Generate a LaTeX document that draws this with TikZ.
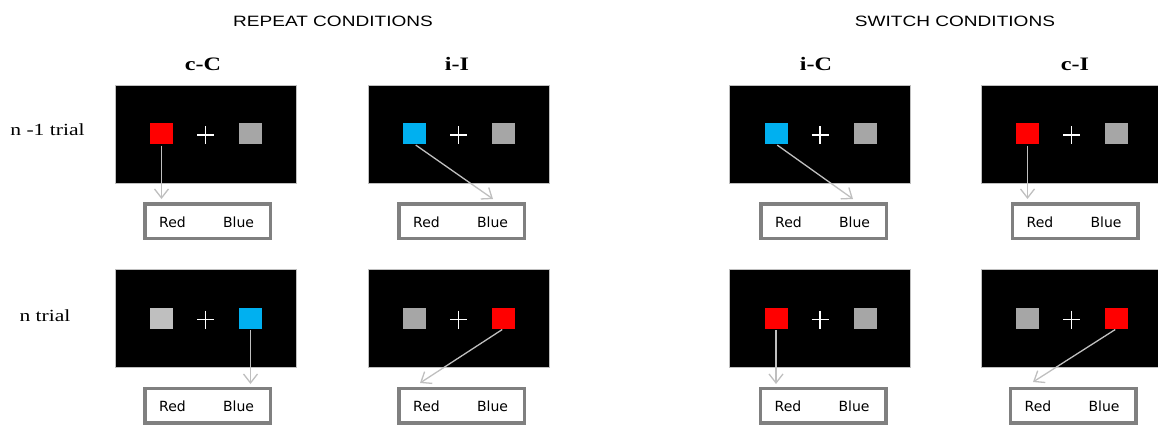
\documentclass[tikz,border=0pt]{standalone}
\usepackage{fontspec}
\usepackage{graphicx}
\usetikzlibrary{arrows.meta,calc}
\setmainfont{Liberation Serif}
\newfontfamily\titlefont{Liberation Sans}
\newfontfamily\respfont{DejaVu Sans}
\definecolor{stimred}{HTML}{FF0000}
\definecolor{stimblue}{HTML}{00B0F0}
\definecolor{stimgray}{HTML}{A6A6A6}
\definecolor{stimlight}{HTML}{BFBFBF}
\definecolor{arrowgray}{HTML}{BFBFBF}
\definecolor{boxgray}{HTML}{808080}
\newcommand\hstretch[1]{\scalebox{1.27}[1]{#1}}
\newcommand\trialpanel[5]{%
  \node[panelbox] (#1) at (#2,#3) {};
  \node[stim, fill=#4] (#1Left) at (#2-44,#3-0.5) {};
  \node[stim, fill=#5] (#1Right) at (#2+45,#3-0.5) {};
  \coordinate (#1Fix) at (#2,#3+1);
  \draw[fixline] ($(#1Fix)+(-8.5,0)$) -- ($(#1Fix)+(8.5,0)$);
  \draw[fixline] ($(#1Fix)+(0,-9)$) -- ($(#1Fix)+(0,9)$);
}
\newcommand\response[3]{%
  \node[respbox] (#1) at (#2,#3) {};
  \node[resptext] (#1Red) at (#2-35,#3+6) {Red};
  \node[resptext] (#1Blue) at (#2+31,#3+6) {Blue};
}
\begin{document}
\begin{tikzpicture}[x=1bp,y=-1bp,
  panelbox/.style={draw=gray!50, line width=0.4bp, fill=black, minimum width=181bp, minimum height=98bp, inner sep=0pt},
  stim/.style={minimum width=23bp, minimum height=21bp, inner sep=0pt},
  respbox/.style={draw=boxgray, line width=3.5bp, fill=white, minimum width=125.5bp, minimum height=34.5bp, inner sep=0pt},
  resptext/.style={font=\respfont\fontsize{14bp}{16bp}\selectfont, anchor=base, inner sep=0pt},
  fixline/.style={draw=white, line width=1.2bp},
  pointer/.style={draw=arrowgray, line width=1.3bp, shorten <=1.5bp, -{Straight Barb[length=9bp,width=14bp,line width=1.3bp]}},
  title/.style={font=\titlefont\fontsize{15bp}{18bp}\selectfont, anchor=base, inner sep=0pt},
  cond/.style={font=\bfseries\fontsize{19bp}{22bp}\selectfont, anchor=base, inner sep=0pt},
  rowlabel/.style={font=\fontsize{17bp}{20bp}\selectfont, anchor=base, inner sep=0pt},
]
\useasboundingbox (0,0) rectangle (1158,425);
\clip (0,0) rectangle (1158,425);

% titles
\node[title] (repeat) at (333,26) {\hstretch{REPEAT CONDITIONS}};
\node[title] (switch) at (955,26) {\hstretch{SWITCH CONDITIONS}};
\node[cond] (lcC) at (203,70) {\hstretch{c-C}};
\node[cond] (liI) at (457,70) {\hstretch{i-I}};
\node[cond] (liC) at (816,70) {\hstretch{i-C}};
\node[cond] (lcI) at (1075,70) {\hstretch{c-I}};
\node[rowlabel] (row1) at (47.5,135) {\hstretch{n -1 trial}};
\node[rowlabel] (row2) at (45,321) {\hstretch{n trial}};

% panels, top row (n-1 trial)
\trialpanel{cCa}{205.5}{134}{stimred}{stimgray}
\trialpanel{iIa}{458.5}{134}{stimblue}{stimgray}
\trialpanel{iCa}{820}{134}{stimblue}{stimgray}
\trialpanel{cIa}{1071.5}{134}{stimred}{stimgray}
% panels, bottom row (n trial)
\trialpanel{cCb}{205.5}{318.5}{stimlight}{stimblue}
\trialpanel{iIb}{458.5}{318.5}{stimgray}{stimred}
\trialpanel{iCb}{820}{318.5}{stimred}{stimgray}
\trialpanel{cIb}{1071.5}{318.5}{stimgray}{stimred}

% response boxes
\response{cCaResp}{207.5}{221}
\response{iIaResp}{461.5}{221}
\response{iCaResp}{823.5}{221}
\response{cIaResp}{1075}{221}
\response{cCbResp}{207.5}{405.5}
\response{iIbResp}{461.5}{405.5}
\response{iCbResp}{823}{405.5}
\response{cIbResp}{1073}{405.5}

% pointer end points
\coordinate (cCaTip) at (161.5,199);
\coordinate (iIaTip) at (493,199);
\coordinate (iCaTip) at (853,199);
\coordinate (cIaTip) at (1027.5,199);
\coordinate (cCbTip) at (250.5,384);
\coordinate (iIbTip) at (420,383);
\coordinate (iCbTip) at (776,384);
\coordinate (cIbTip) at (1033,382);

% pointers
\draw[pointer] (cCaLeft.south) -- (cCaTip);
\draw[pointer] (iIaLeft.south) -- (iIaTip);
\draw[pointer] (iCaLeft.south) -- (iCaTip);
\draw[pointer] (cIaLeft.south) -- (cIaTip);
\draw[pointer] (cCbRight.south) -- (cCbTip);
\draw[pointer] (iIbRight.south) -- (iIbTip);
\draw[pointer] (iCbLeft.south) -- (iCbTip);
\draw[pointer] (cIbRight.south) -- (cIbTip);
\end{tikzpicture}
\end{document}
